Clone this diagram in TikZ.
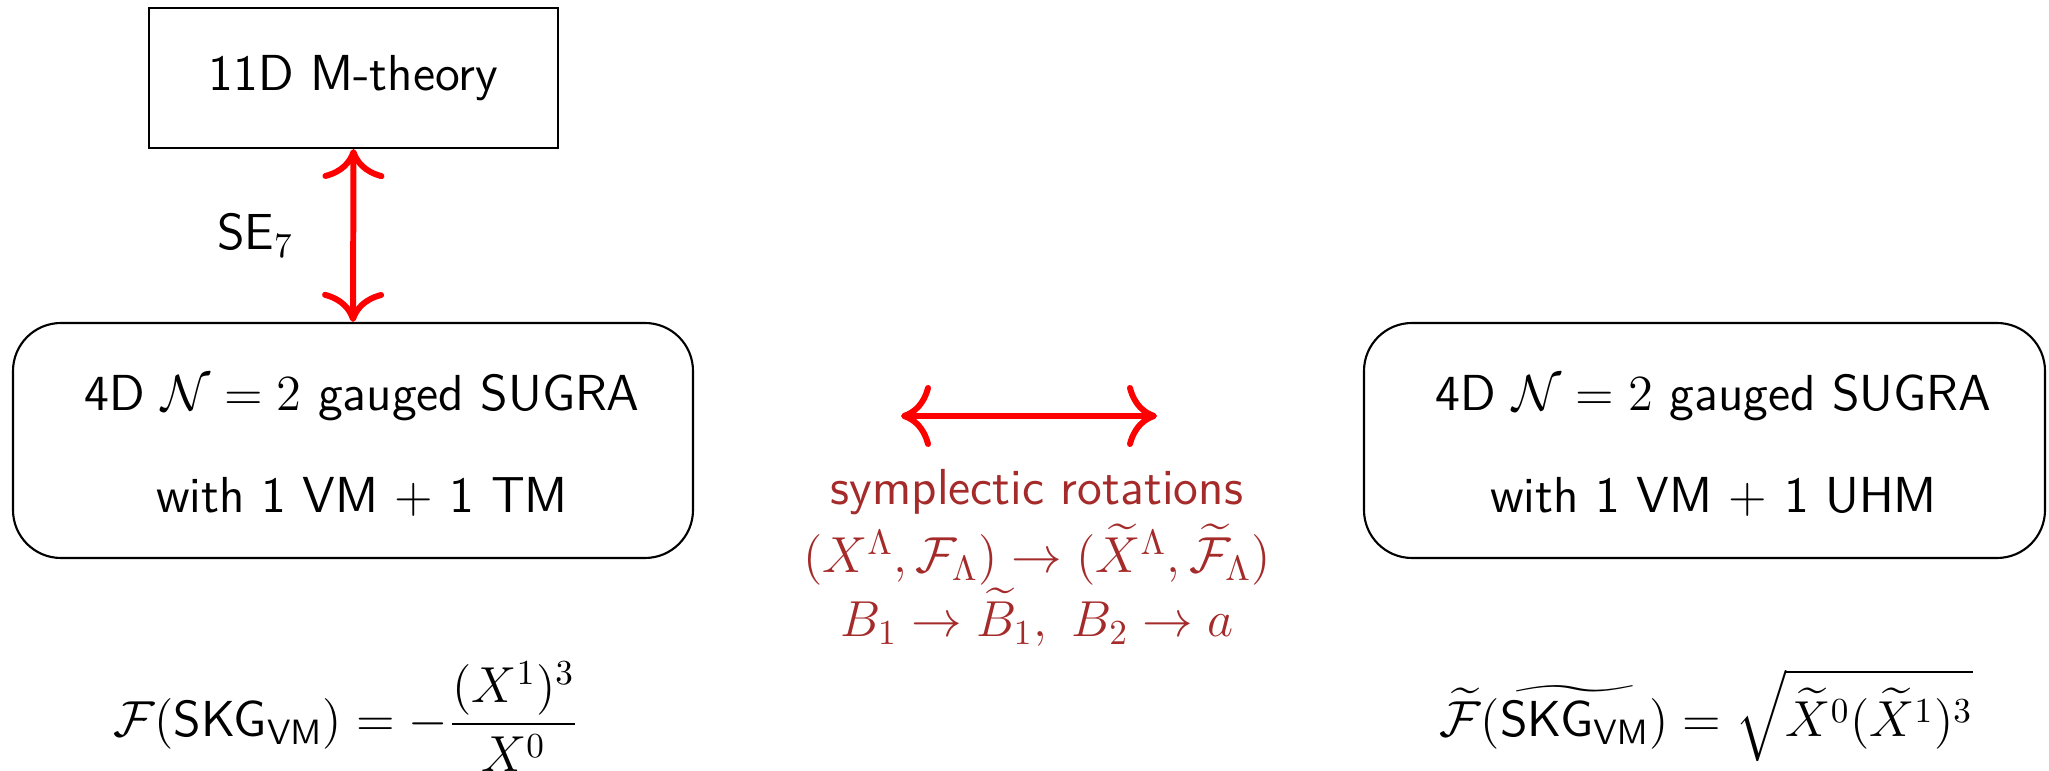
\documentclass[tikz,border=0pt]{standalone}
\usepackage{amsmath}
\usepackage{graphicx}
\usepackage{xcolor}
\usepackage{tikz}
\usetikzlibrary{arrows.meta}
\definecolor{RotRed}{HTML}{FF0000}
\definecolor{RotText}{HTML}{A52A2A}
\newsavebox\skgbox
\newcommand{\longtilde}[1]{\sbox\skgbox{$#1$}%
  \rlap{\resizebox{\wd\skgbox}{\height}{$\widetilde{\vphantom{\mathsf{SKG}}\hphantom{\mathsf{SKG}}}$}}\usebox\skgbox}

\begin{document}
\begin{tikzpicture}[x=1cm,y=1cm,
  font=\fontsize{14.4}{17.3}\selectfont\sffamily,
  thbox/.style={draw,line width=.6pt,align=center,inner sep=0pt},
  sugrabox/.style={thbox,rounded corners=0.48cm,minimum width=6.80cm,minimum height=2.35cm},
  rotarrow/.style={RotRed,line width=1.7pt,
    {Computer Modern Rightarrow[length=0.3cm,width=0.62cm]}-{Computer Modern Rightarrow[length=0.3cm,width=0.62cm]}},
  rottext/.style={RotText,anchor=base}]
\path[use as bounding box] (0,0) rectangle (20.49,7.71);
% theories
\node[thbox,minimum width=4.09cm,minimum height=1.40cm] (mth) at (3.535,6.93) {11D M-theory};
\node[sugrabox] (tmsugra) at (3.53,3.305) {};
\node[align=center] (tmtext) at (3.62,3.255) {4D $\mathcal{N}=2$ gauged SUGRA\\[0.41cm] with 1 VM $+$ 1 TM};
\node[sugrabox,minimum width=6.81cm] (uhmsugra) at (17.045,3.305) {};
\node[align=center] (uhmtext) at (17.135,3.255) {4D $\mathcal{N}=2$ gauged SUGRA\\[0.41cm] with 1 VM $+$ 1 UHM};
% reduction
\draw[rotarrow] (mth.south) -- (tmsugra.north) node[midway,left=0.45cm,black] (se) {SE$_7$};
% symplectic rotations
\coordinate (rotL) at (9.01,3.55);
\coordinate (rotR) at (11.57,3.55);
\draw[rotarrow] (rotL) -- (rotR);
\node[rottext] (rot1) at (10.37,2.66) {symplectic rotations};
\node[rottext] (rot2) at (10.37,1.98) {$(X^\Lambda,\mathcal{F}_\Lambda)\rightarrow(\widetilde{X}^\Lambda,\widetilde{\mathcal{F}}_\Lambda)$};
\node[rottext] (rot3) at (10.37,1.34) {$B_1\rightarrow\widetilde{B}_1,\ B_2\rightarrow a$};
% prepotentials
\node[anchor=base] (fleft) at (3.46,0.34) {$\mathcal{F}(\mathsf{SKG}_{\mathsf{VM}})=-\dfrac{(X^1)^3}{X^0}$};
\node[anchor=base] (fright) at (17.06,0.34) {$\widetilde{\mathcal{F}}(\longtilde{\mathsf{SKG}_{\mathsf{VM}}})=\sqrt{\widetilde{X}^0(\widetilde{X}^1)^3}$};
\end{tikzpicture}
\end{document}
